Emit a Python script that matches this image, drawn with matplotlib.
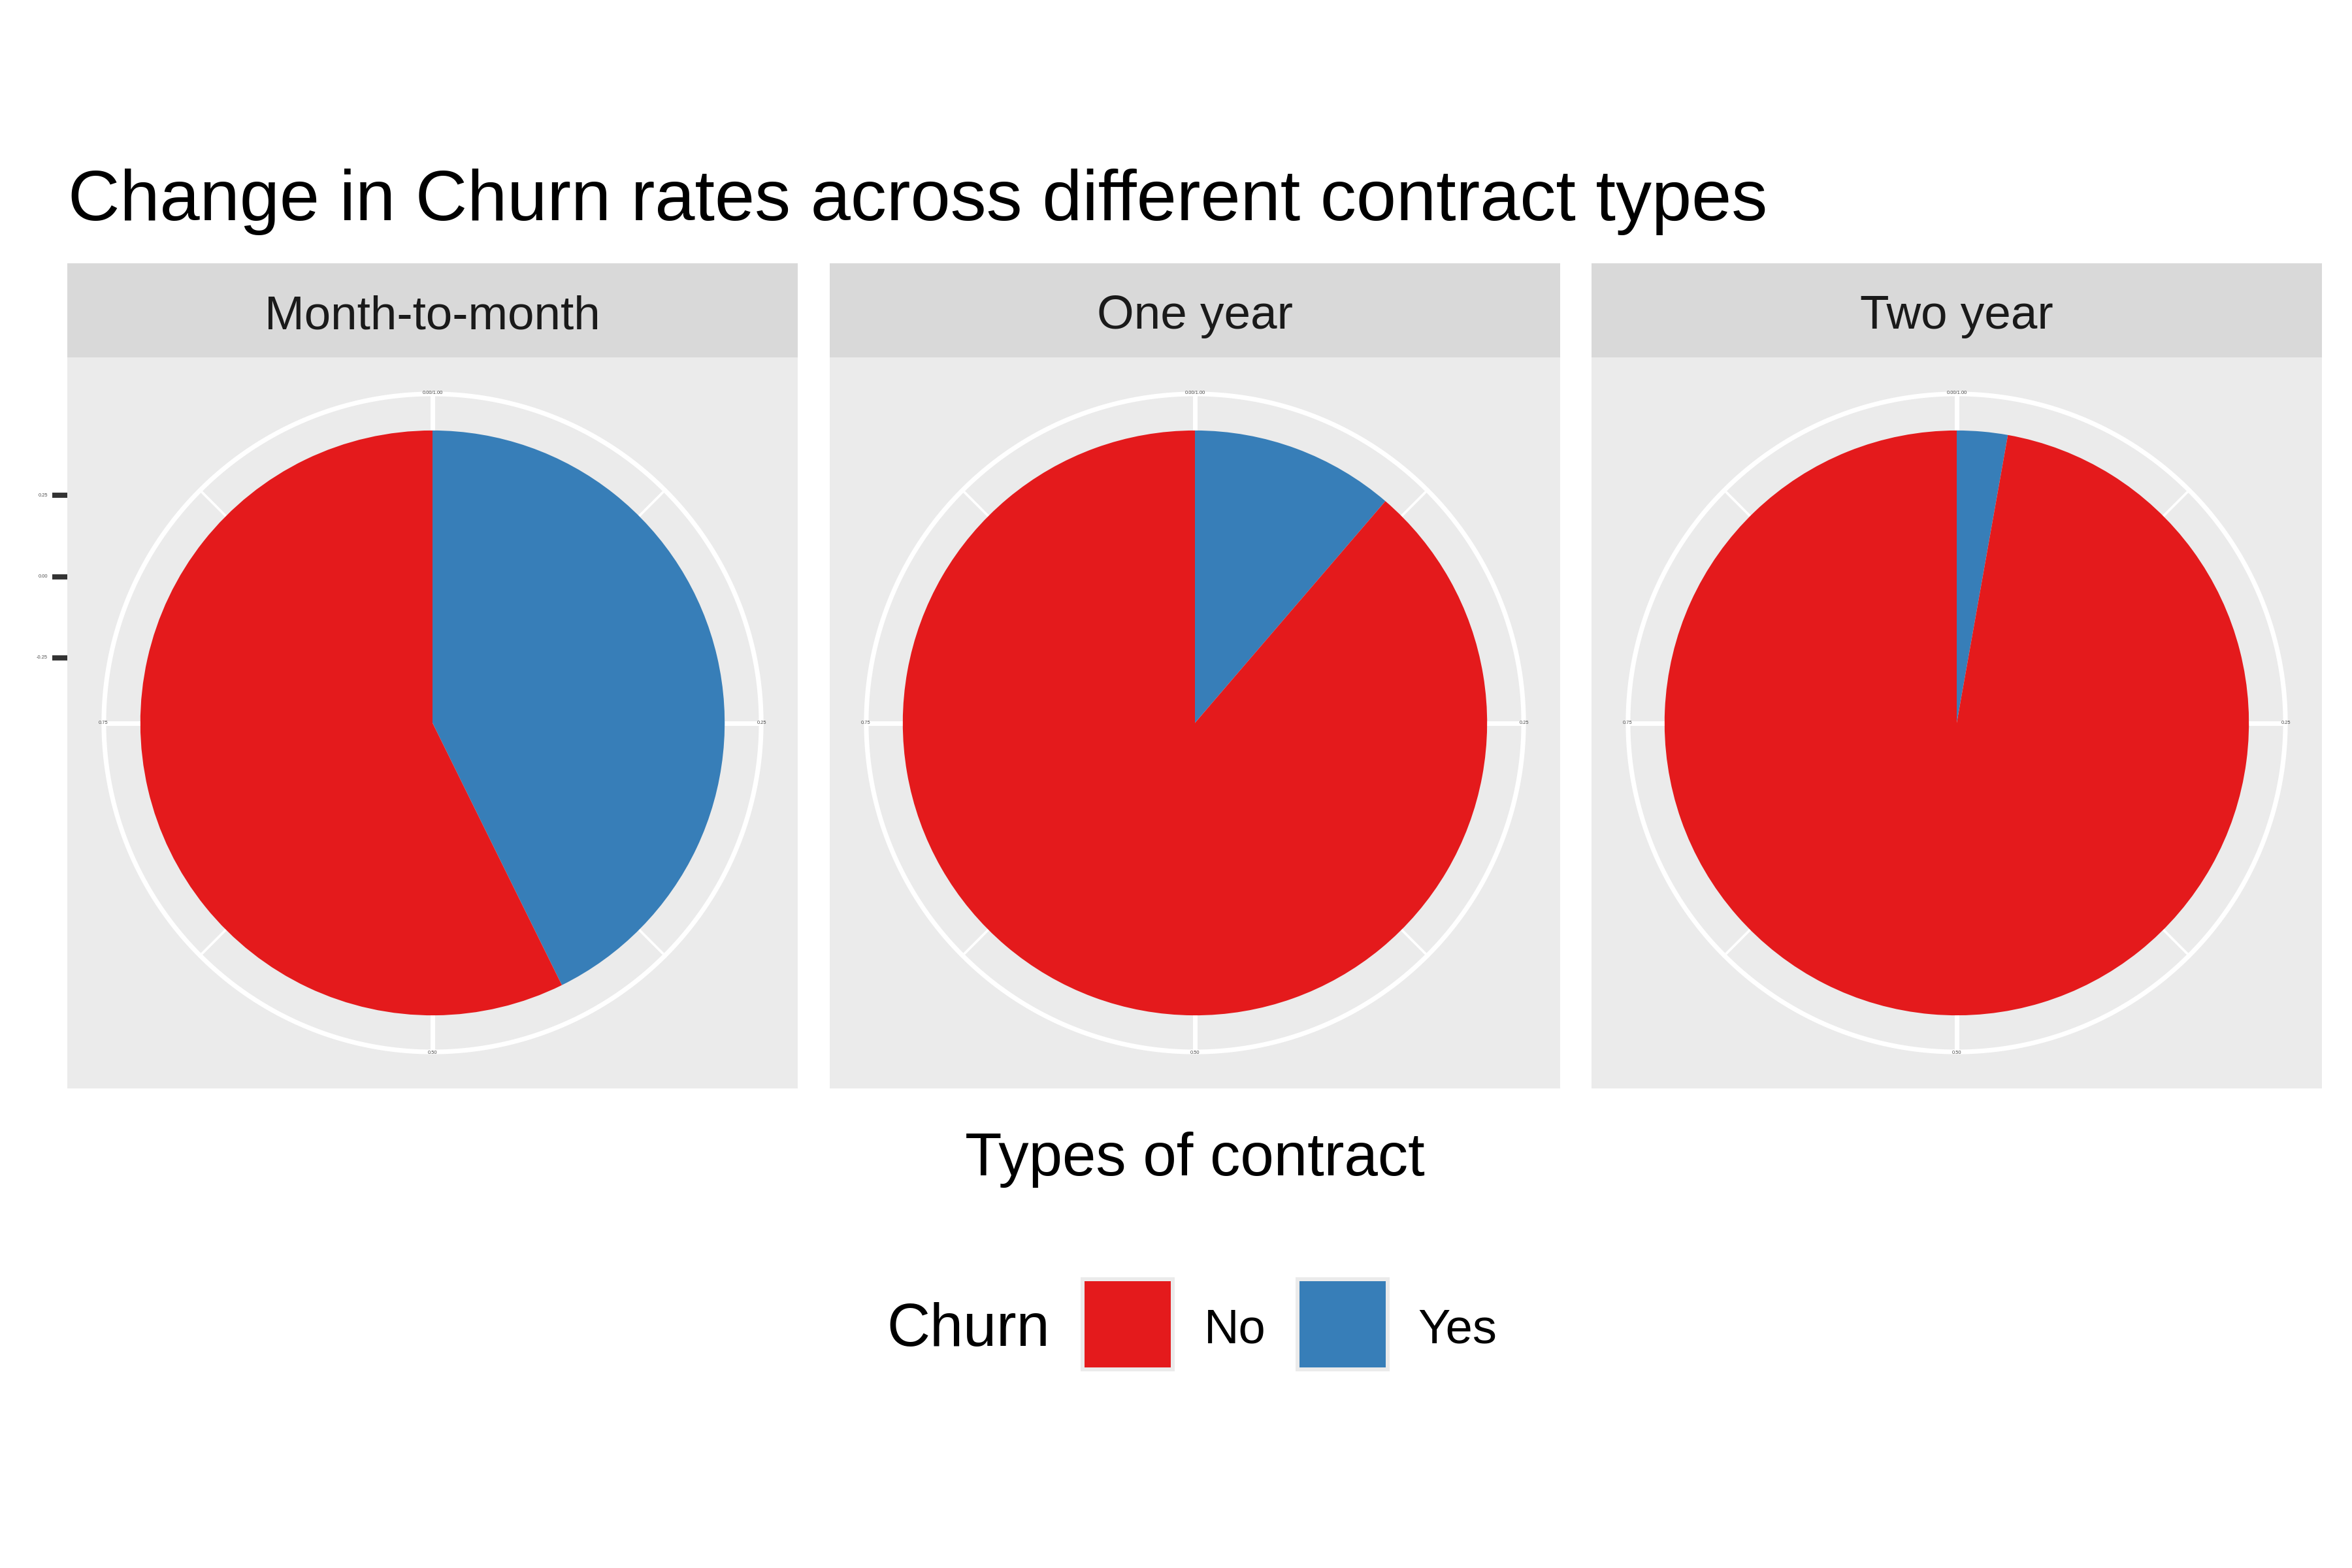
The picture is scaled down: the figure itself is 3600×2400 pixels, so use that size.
import matplotlib
matplotlib.use("Agg")
import matplotlib.pyplot as plt
from matplotlib.patches import Rectangle
import numpy as np

plt.rcParams['font.family'] = ['Liberation Sans', 'DejaVu Sans']

# ---- data ----
contracts = ["Month-to-month", "One year", "Two year"]
churn_levels = ["No", "Yes"]
churn_yes = [0.427, 0.113, 0.028]           # share of churned customers
churn_no = [1 - v for v in churn_yes]
theta_breaks = [0.0, 0.25, 0.50, 0.75]
theta_labels = ["0.00/1.00", "0.25", "0.50", "0.75"]
r_breaks = [-0.25, 0.00, 0.25]
r_labels = ["-0.25", "0.00", "0.25"]

title = "Change in Churn rates across different contract types"
xlabel = "Types of contract"
legend_title = "Churn"

col_no = "#E41A1C"
col_yes = "#377EB8"
panel_bg = "#EBEBEB"
strip_bg = "#D9D9D9"

W, H = 3600, 2400
fig = plt.figure(figsize=(12, 8), dpi=300)
fig.patch.set_facecolor("white")

def fx(x):
    return x / W

def fy(y):
    return 1 - y / H

panel_left = [103, 1270, 2436]
panel_w = 1118
panel_top = 547
panel_bot = 1666
strip_top = 403

major_lw = 1.7
minor_lw = 0.9

for i, name in enumerate(contracts):
    l = panel_left[i]
    ax = fig.add_axes([fx(l), fy(panel_bot), panel_w / W, (panel_bot - panel_top) / H])
    ax.pie([churn_yes[i], churn_no[i]], colors=[col_yes, col_no], startangle=90,
           counterclock=False, radius=0.4, center=(0, 0),
           wedgeprops=dict(linewidth=0, zorder=3))
    ax.set_frame_on(True)
    for s in ax.spines.values():
        s.set_visible(False)
    ax.set_facecolor(panel_bg)
    ax.set_xlim(-0.5, 0.5)
    ax.set_ylim(-0.5, 0.5)
    ax.set_aspect("auto")
    ax.set_xticks([])
    ax.set_yticks([])

    # outer circle
    t = np.linspace(0, 2 * np.pi, 400)
    ax.plot(0.45 * np.cos(t), 0.45 * np.sin(t), color="white", lw=major_lw, zorder=1)
    # major theta spokes
    for b in theta_breaks:
        ang = np.pi / 2 - 2 * np.pi * b
        ax.plot([0, 0.45 * np.cos(ang)], [0, 0.45 * np.sin(ang)], color="white",
                lw=major_lw, zorder=1, solid_capstyle="butt")
    # minor theta spokes
    for b in theta_breaks:
        ang = np.pi / 2 - 2 * np.pi * (b + 0.125)
        ax.plot([0, 0.45 * np.cos(ang)], [0, 0.45 * np.sin(ang)], color="white",
                lw=minor_lw, zorder=1, solid_capstyle="butt")
    # theta labels
    for b, lab in zip(theta_breaks, theta_labels):
        ang = np.pi / 2 - 2 * np.pi * b
        ax.text(0.451 * np.cos(ang), 0.451 * np.sin(ang), lab, fontsize=1.8,
                color="#4D4D4D", ha="center", va="center", zorder=4)

    # strip
    fig.patches.append(Rectangle((fx(l), fy(panel_top)), panel_w / W,
                                 (panel_top - strip_top) / H, transform=fig.transFigure,
                                 facecolor=strip_bg, edgecolor="none", zorder=0))
    fig.text(fx(l + panel_w / 2), fy(503), name, fontsize=17.5, color="#1A1A1A",
             ha="center", va="baseline")

    if i == 0:
        # radial axis ticks on the left
        for rb, rl in zip(r_breaks, r_labels):
            yy = 0.2 + 0.444 * rb
            ax.plot([-0.5 - 23 / panel_w, -0.5], [yy, yy], color="#333333", lw=1.9,
                    clip_on=False, solid_capstyle="butt")
            ax.text(-0.5 - 30 / panel_w, yy, rl, fontsize=1.8, color="#4D4D4D",
                    ha="right", va="center")

# title & axis label
fig.text(fx(104), fy(337), title, fontsize=26.4, color="black", ha="left", va="baseline")
fig.text(fx(1829), fy(1799), xlabel, fontsize=22.2, color="black", ha="center", va="baseline")

# legend
fig.text(fx(1357), fy(2060), legend_title, fontsize=22, color="black", ha="left", va="baseline")
key_x = [1654, 1983]
lab_x = [1843, 2170]
for kx, lx, lev, c in zip(key_x, lab_x, churn_levels, [col_no, col_yes]):
    fig.patches.append(Rectangle((fx(kx), fy(2099)), 144 / W, 144 / H,
                                 transform=fig.transFigure, facecolor=panel_bg,
                                 edgecolor="none"))
    fig.patches.append(Rectangle((fx(kx + 6), fy(2093)), 132 / W, 132 / H,
                                 transform=fig.transFigure, facecolor=c,
                                 edgecolor="none"))
    fig.text(fx(lx), fy(2055), lev, fontsize=17.8, color="black", ha="left", va="baseline")

fig.savefig("out.png", dpi=300, facecolor="white")
